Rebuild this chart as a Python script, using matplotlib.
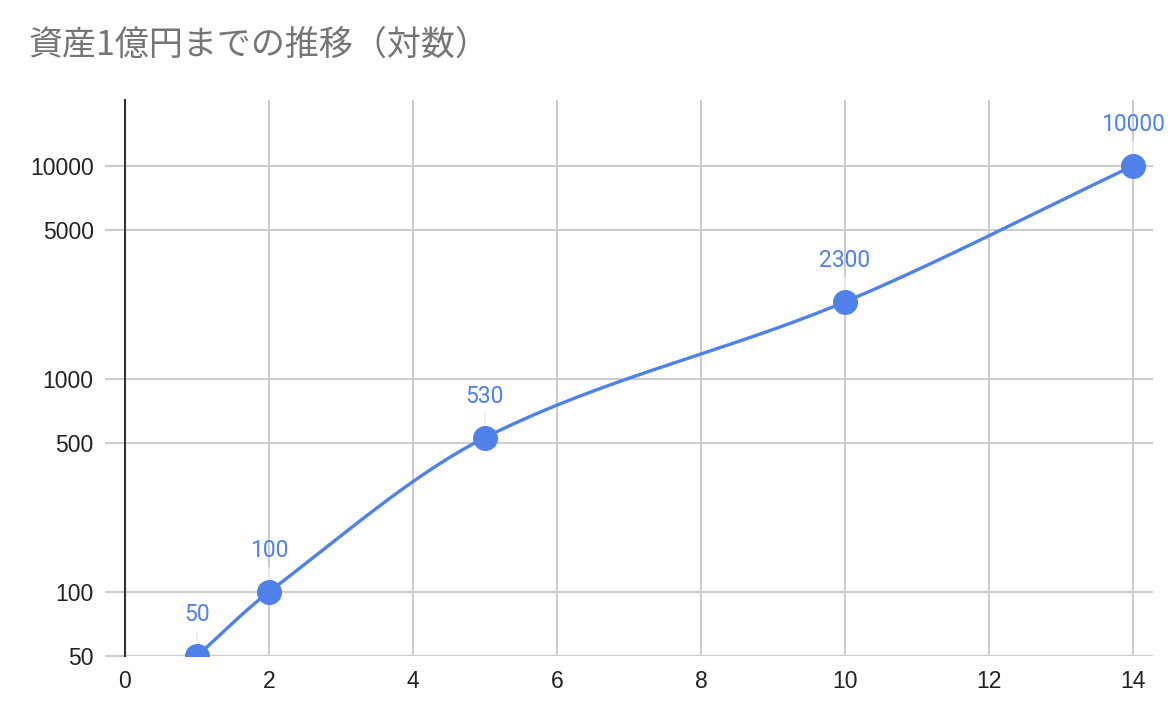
import numpy as np
import matplotlib
matplotlib.use("Agg")
import matplotlib.pyplot as plt

plt.rcParams['font.family'] = ['Noto Sans CJK JP', 'DejaVu Sans']

title = "資産1億円までの推移（対数）"
x_vals = [1, 2, 5, 10, 14]
y_vals = [50, 100, 530, 2300, 10000]
x_ticks = [0, 2, 4, 6, 8, 10, 12, 14]
y_ticks = [50, 100, 500, 1000, 5000, 10000]

blue = "#4F81E9"
grid_c = "#CCCCCC"

fig = plt.figure(figsize=(11.76, 7.22), dpi=100)
ax = fig.add_axes([125/1176, 1-656/722, (1153-125)/1176, (656-100)/722])
ax.set_yscale('log')
ax.set_xlim(0, 14.28)
ax.set_ylim(50, 20400)

# smooth curve (cubic Hermite / Catmull-Rom in x, log y)
xs = np.array(x_vals, float)
ly = np.log10(np.array(y_vals, float))
n = len(xs)
m = np.zeros(n)
for i in range(n):
    if i == 0:
        m[i] = (ly[1]-ly[0])/(xs[1]-xs[0])
    elif i == n-1:
        m[i] = (ly[-1]-ly[-2])/(xs[-1]-xs[-2])
    else:
        m[i] = (ly[i+1]-ly[i-1])/(xs[i+1]-xs[i-1])
cx, cy = [], []
for i in range(n-1):
    h = xs[i+1]-xs[i]
    t = np.linspace(0, 1, 60)
    h00 = 2*t**3-3*t**2+1
    h10 = t**3-2*t**2+t
    h01 = -2*t**3+3*t**2
    h11 = t**3-t**2
    yy = h00*ly[i] + h10*h*m[i] + h01*ly[i+1] + h11*h*m[i+1]
    cx.extend(xs[i] + t*h)
    cy.extend(10**yy)
ax.plot(cx, cy, color=blue, lw=2.4, solid_capstyle='round', zorder=3)
ax.plot(x_vals, y_vals, 'o', color=blue, markersize=17, zorder=4, clip_on=True)

# data labels with faint leader lines
for xv, yv in zip(x_vals, y_vals):
    ax.annotate(str(yv), xy=(xv, yv), xytext=(0, 25), textcoords='offset points',
                ha='center', va='baseline', color=blue, fontsize=16.5,
                family=['Roboto', 'DejaVu Sans'], annotation_clip=False,
                arrowprops=dict(arrowstyle='-', color='#EEEEEE', lw=1.2,
                                shrinkA=2, shrinkB=8), zorder=2)

ax.set_xticks(x_ticks)
ax.set_xticklabels([str(v) for v in x_ticks])
ax.set_yticks(y_ticks)
ax.set_yticklabels([str(v) for v in y_ticks])
ax.minorticks_off()
ax.yaxis.set_minor_locator(matplotlib.ticker.NullLocator())

ax.grid(True, which='major', color=grid_c, lw=1.5, zorder=0)
ax.set_axisbelow(True)
for s in ['top', 'right', 'bottom']:
    ax.spines[s].set_visible(False)
ax.spines['left'].set_color('#333333')
ax.spines['left'].set_linewidth(1.5)
ax.spines['left'].set_zorder(5)

ax.tick_params(axis='y', length=14.5, width=1.5, color=grid_c, pad=8, labelsize=16.5)
ax.tick_params(axis='x', length=0, pad=10, labelsize=16.5)
for lab in ax.get_xticklabels() + ax.get_yticklabels():
    lab.set_family(['Liberation Sans', 'DejaVu Sans'])
    lab.set_color('#222222')

fig.text(28/1176, 1-45/722, title, fontsize=24.5, color='#757575', va='center', ha='left')

fig.savefig('out.png', dpi=100)
